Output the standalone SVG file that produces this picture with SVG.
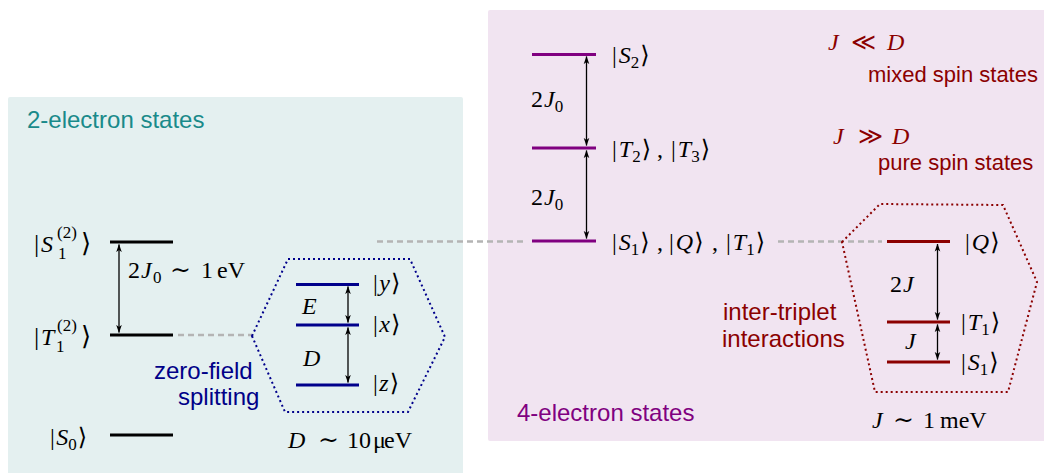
<svg xmlns="http://www.w3.org/2000/svg" width="1044" height="473" viewBox="0 0 1044 473">
<style>
.m{font-family:"Liberation Serif","DejaVu Serif",serif;font-size:24px;fill:#000}
.i{font-style:italic}
.s{font-size:17px}
.sim{font-size:25px}
.rel{font-size:24px;font-family:"DejaVu Serif","DejaVu Sans",serif}
.sans{font-family:"Liberation Sans",Arial,sans-serif;font-size:24px}
.lvk{stroke:#000;stroke-width:3}
.lvb{stroke:#00008b;stroke-width:3}
.lvp{stroke:#800080;stroke-width:3}
.lvr{stroke:#8b0000;stroke-width:3}
.arr{stroke:#000;stroke-width:1.3;fill:none;marker-start:url(#ah);marker-end:url(#ah)}
.gd{stroke:#b4b4b4;stroke-width:2.5;stroke-dasharray:6 4;fill:none}
.hexb{fill:none;stroke:#00008b;stroke-width:2;stroke-dasharray:2 3}
.hexr{fill:none;stroke:#8b0000;stroke-width:2;stroke-dasharray:2 3}
.red{fill:#8b0000}
</style>
<defs>
<marker id="ah" viewBox="0 0 10 10" refX="9.5" refY="5" markerWidth="8" markerHeight="8" markerUnits="userSpaceOnUse" orient="auto-start-reverse">
<path d="M0,1.5 L10,5 L0,8.5 L2.5,5 z" fill="#000"/>
</marker>
</defs>

<g id="panel-2e">
<rect x="8" y="97" width="455" height="380" rx="2" fill="#e4f0f0"/>
<text class="sans" x="27" y="128" fill="#198a8a">2-electron states</text>
</g>
<g id="panel-4e">
<rect x="488" y="10" width="560" height="431" rx="2" fill="#f1e4f1"/>
<text class="sans" x="517" y="421" fill="#800080">4-electron states</text>
</g>

<g id="connectors">
<line class="gd" x1="377" y1="241.5" x2="527" y2="241.5"/>
<line class="gd" x1="778" y1="241.5" x2="882" y2="241.5"/>
<line class="gd" x1="178" y1="335" x2="252" y2="335"/>
<line class="arr" x1="119" y1="244.5" x2="119" y2="332.5"/>
<line class="arr" x1="348" y1="286.5" x2="348" y2="322.5"/>
<line class="arr" x1="348" y1="327.5" x2="348" y2="382.5"/>
<line class="arr" x1="586.5" y1="56.5" x2="586.5" y2="145.5"/>
<line class="arr" x1="586.5" y1="150.5" x2="586.5" y2="238.5"/>
<line class="arr" x1="937.5" y1="244" x2="937.5" y2="319.5"/>
<line class="arr" x1="937.5" y1="324.5" x2="937.5" y2="359.5"/>
</g>

<g id="S1-2">
<line class="lvk" x1="110" y1="242" x2="173" y2="242"/>
<text class="m" x="34" y="252" style="font-size:26px">|</text><text class="m i" x="41" y="252">S</text>
<text class="m s" x="57" y="238">(2)</text><text class="m s" x="58" y="259">1</text>
<text class="m" x="81" y="252" style="font-size:26px">⟩</text>
</g>
<g id="T1-2">
<line class="lvk" x1="110" y1="335" x2="173" y2="335"/>
<text class="m" x="34" y="345" style="font-size:26px">|</text><text class="m i" x="41" y="345">T</text>
<text class="m s" x="57" y="331">(2)</text><text class="m s" x="56" y="352">1</text>
<text class="m" x="81" y="345" style="font-size:26px">⟩</text>
</g>
<g id="S0">
<line class="lvk" x1="110" y1="435" x2="173" y2="435"/>
<text class="m" x="50" y="445">|<tspan class="i" dx="1.5">S</tspan><tspan class="s" dy="5">0</tspan><tspan dy="-5" dx="1">⟩</tspan></text>
</g>
<g id="gap-2J0">
<text class="m" x="128" y="278">2<tspan class="i" x="141">J</tspan><tspan class="s" x="153" dy="5">0</tspan><tspan class="sim" x="170" dy="-5">∼</tspan><tspan x="201">1</tspan><tspan x="217">eV</tspan></text>
</g>

<g id="zfs-label">
<text class="sans" x="154" y="379" fill="#000088">zero-field</text>
<text class="sans" x="178" y="405" fill="#000088">splitting</text>
</g>

<g id="zfs-hex">
<polygon class="hexb" points="252,336 288,259 410,259 445,337 408,412 285,412"/>
<line class="lvb" x1="296" y1="284.5" x2="359" y2="284.5"/>
<line class="lvb" x1="296" y1="325" x2="359" y2="325"/>
<line class="lvb" x1="296" y1="385" x2="359" y2="385"/>
<text class="m i" x="302" y="314">E</text>
<text class="m i" x="303" y="366">D</text>
<text class="m" x="373" y="291">|<tspan class="i" dx="1.5">y</tspan><tspan dx="1">⟩</tspan></text>
<text class="m" x="373" y="332">|<tspan class="i" dx="1.5">x</tspan><tspan dx="1">⟩</tspan></text>
<text class="m" x="373" y="391">|<tspan class="i" dx="1.5">z</tspan><tspan dx="1">⟩</tspan></text>
<text class="m" x="288" y="448"><tspan class="i">D</tspan><tspan class="sim" x="318">∼</tspan><tspan x="347">10</tspan><tspan x="373">μ</tspan><tspan x="384">eV</tspan></text>
</g>

<g id="S2">
<line class="lvp" x1="532" y1="54.5" x2="596" y2="54.5"/>
<text class="m" x="531" y="107">2<tspan class="i" dx="1">J</tspan><tspan class="s" dy="5">0</tspan></text>
<text class="m" x="612" y="63">|<tspan class="i" dx="2">S</tspan><tspan class="s" dy="5">2</tspan><tspan dy="-5" dx="1">⟩</tspan></text>
</g>
<g id="T2T3">
<line class="lvp" x1="532" y1="148" x2="596" y2="148"/>
<text class="m" x="531" y="205">2<tspan class="i" dx="1">J</tspan><tspan class="s" dy="5">0</tspan></text>
<text class="m" x="612" y="157">|<tspan class="i" dx="2">T</tspan><tspan class="s" dy="5">2</tspan><tspan dy="-5" dx="1">⟩</tspan><tspan x="657">,</tspan><tspan x="671">|</tspan><tspan class="i" dx="2">T</tspan><tspan class="s" dy="5">3</tspan><tspan dy="-5" dx="1">⟩</tspan></text>
</g>
<g id="S1QT1">
<line class="lvp" x1="532" y1="241" x2="596" y2="241"/>
<text class="m" x="612" y="250">|<tspan class="i" dx="2">S</tspan><tspan class="s" dy="5">1</tspan><tspan dy="-5" dx="1">⟩</tspan><tspan x="657">,</tspan><tspan x="669">|</tspan><tspan class="i" dx="2">Q</tspan><tspan dx="1">⟩</tspan><tspan x="712">,</tspan><tspan x="726">|</tspan><tspan class="i" dx="2">T</tspan><tspan class="s" dy="5">1</tspan><tspan dy="-5" dx="1">⟩</tspan></text>
</g>

<g id="regimes">
<text class="m red" x="828" y="50"><tspan class="i">J</tspan><tspan class="rel" x="851">≪</tspan><tspan class="i" x="887">D</tspan></text>
<text class="sans red" x="868" y="82" style="font-size:22px">mixed spin states</text>
<text class="m red" x="833" y="144"><tspan class="i">J</tspan><tspan class="rel" x="858">≫</tspan><tspan class="i" x="892">D</tspan></text>
<text class="sans red" x="878" y="170" style="font-size:22px">pure spin states</text>
</g>

<g id="itl-label">
<text class="sans red" x="723" y="320">inter-triplet</text>
<text class="sans red" x="722" y="347">interactions</text>
</g>

<g id="itl-hex">
<polygon class="hexr" points="842,242 880,204 1003,205 1037,282 1008,392 875,392"/>
<line class="lvr" x1="887" y1="241.5" x2="950" y2="241.5"/>
<line class="lvr" x1="887" y1="322" x2="950" y2="322"/>
<line class="lvr" x1="887" y1="362" x2="950" y2="362"/>
<text class="m" x="890" y="292">2<tspan class="i" dx="1">J</tspan></text>
<text class="m i" x="905" y="349">J</text>
<text class="m" x="965" y="250">|<tspan class="i" dx="2">Q</tspan><tspan dx="1">⟩</tspan></text>
<text class="m" x="961" y="330">|<tspan class="i" dx="2">T</tspan><tspan class="s" dy="5">1</tspan><tspan dy="-5" dx="1">⟩</tspan></text>
<text class="m" x="961" y="370">|<tspan class="i" dx="2">S</tspan><tspan class="s" dy="5">1</tspan><tspan dy="-5" dx="1">⟩</tspan></text>
<text class="m" x="872" y="428"><tspan class="i">J</tspan><tspan class="sim" x="893">∼</tspan><tspan x="923">1</tspan><tspan x="940">meV</tspan></text>
</g>
</svg>
